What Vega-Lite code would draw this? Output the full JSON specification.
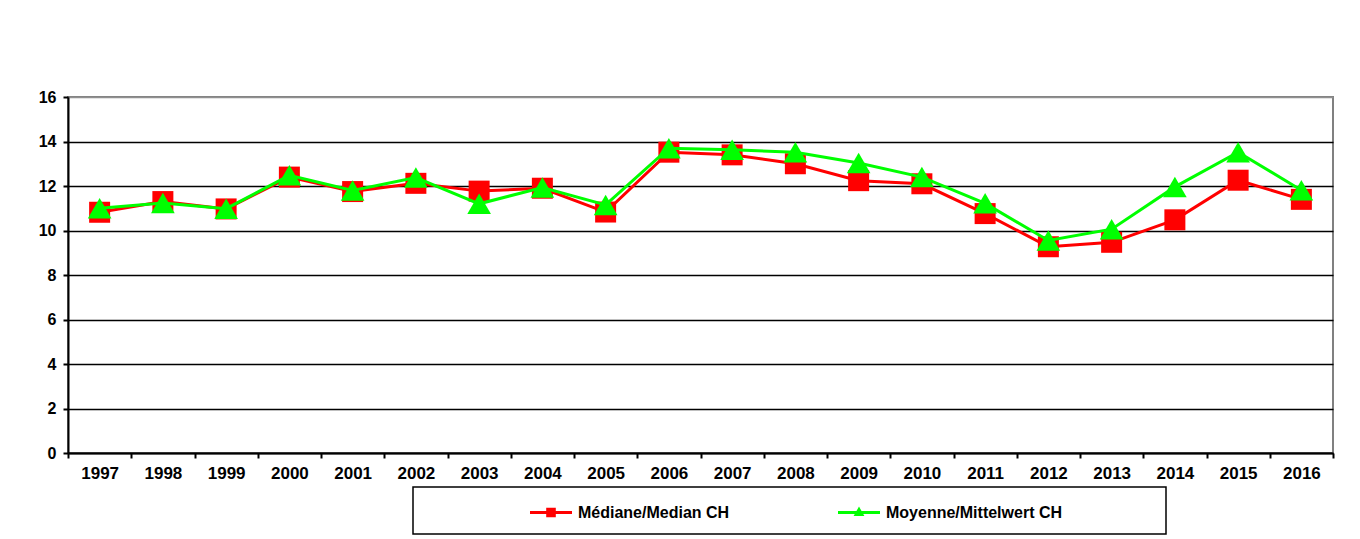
{
  "$schema": "https://vega.github.io/schema/vega-lite/v6.json",
  "width": 1265,
  "height": 356,
  "autosize": {"type": "none"},
  "padding": {"left": 68, "top": 97, "right": 27, "bottom": 86},
  "background": "white",
  "config": {
    "font": "Liberation Sans",
    "view": {"stroke": "#808080", "strokeWidth": 2}
  },
  "data": {
    "values": [
      {"year": "1997", "series": "Médiane/Median CH", "value": 10.82},
      {"year": "1998", "series": "Médiane/Median CH", "value": 11.3},
      {"year": "1999", "series": "Médiane/Median CH", "value": 10.97},
      {"year": "2000", "series": "Médiane/Median CH", "value": 12.4},
      {"year": "2001", "series": "Médiane/Median CH", "value": 11.75},
      {"year": "2002", "series": "Médiane/Median CH", "value": 12.12},
      {"year": "2003", "series": "Médiane/Median CH", "value": 11.77},
      {"year": "2004", "series": "Médiane/Median CH", "value": 11.9},
      {"year": "2005", "series": "Médiane/Median CH", "value": 10.83},
      {"year": "2006", "series": "Médiane/Median CH", "value": 13.52},
      {"year": "2007", "series": "Médiane/Median CH", "value": 13.4},
      {"year": "2008", "series": "Médiane/Median CH", "value": 13.0},
      {"year": "2009", "series": "Médiane/Median CH", "value": 12.24},
      {"year": "2010", "series": "Médiane/Median CH", "value": 12.1},
      {"year": "2011", "series": "Médiane/Median CH", "value": 10.76},
      {"year": "2012", "series": "Médiane/Median CH", "value": 9.27},
      {"year": "2013", "series": "Médiane/Median CH", "value": 9.47},
      {"year": "2014", "series": "Médiane/Median CH", "value": 10.48},
      {"year": "2015", "series": "Médiane/Median CH", "value": 12.26},
      {"year": "2016", "series": "Médiane/Median CH", "value": 11.4},
      {"year": "1997", "series": "Moyenne/Mittelwert CH", "value": 11.0},
      {"year": "1998", "series": "Moyenne/Mittelwert CH", "value": 11.24},
      {"year": "1999", "series": "Moyenne/Mittelwert CH", "value": 10.98},
      {"year": "2000", "series": "Moyenne/Mittelwert CH", "value": 12.48},
      {"year": "2001", "series": "Moyenne/Mittelwert CH", "value": 11.8},
      {"year": "2002", "series": "Moyenne/Mittelwert CH", "value": 12.38},
      {"year": "2003", "series": "Moyenne/Mittelwert CH", "value": 11.2},
      {"year": "2004", "series": "Moyenne/Mittelwert CH", "value": 11.93},
      {"year": "2005", "series": "Moyenne/Mittelwert CH", "value": 11.15},
      {"year": "2006", "series": "Moyenne/Mittelwert CH", "value": 13.7},
      {"year": "2007", "series": "Moyenne/Mittelwert CH", "value": 13.63},
      {"year": "2008", "series": "Moyenne/Mittelwert CH", "value": 13.52},
      {"year": "2009", "series": "Moyenne/Mittelwert CH", "value": 13.03},
      {"year": "2010", "series": "Moyenne/Mittelwert CH", "value": 12.4},
      {"year": "2011", "series": "Moyenne/Mittelwert CH", "value": 11.22},
      {"year": "2012", "series": "Moyenne/Mittelwert CH", "value": 9.55},
      {"year": "2013", "series": "Moyenne/Mittelwert CH", "value": 10.06},
      {"year": "2014", "series": "Moyenne/Mittelwert CH", "value": 11.96},
      {"year": "2015", "series": "Moyenne/Mittelwert CH", "value": 13.52},
      {"year": "2016", "series": "Moyenne/Mittelwert CH", "value": 11.81}
    ]
  },
  "encoding": {
    "x": {
      "field": "year",
      "type": "ordinal",
      "scale": {"paddingInner": 0, "paddingOuter": 0},
      "axis": {
        "title": null,
        "labelAngle": 0,
        "labelFont": "Liberation Sans",
        "labelFontSize": 17,
        "labelFontWeight": "bold",
        "labelColor": "black",
        "labelPadding": 7,
        "tickBand": "extent",
        "tickColor": "black",
        "tickSize": 5,
        "tickWidth": 2,
        "domainColor": "black",
        "domainWidth": 2,
        "grid": false,
        "zindex": 1
      }
    },
    "y": {
      "field": "value",
      "type": "quantitative",
      "scale": {"domain": [0, 16], "nice": false},
      "axis": {
        "title": null,
        "values": [0, 2, 4, 6, 8, 10, 12, 14, 16],
        "labelFont": "Liberation Sans",
        "labelFontSize": 16,
        "labelFontWeight": "bold",
        "labelColor": "black",
        "labelPadding": 7,
        "tickColor": "black",
        "tickSize": 5,
        "tickWidth": 2,
        "domainColor": "black",
        "domainWidth": 2,
        "grid": true,
        "gridColor": {"condition": {"test": "datum.value == 16", "value": "#909090"}, "value": "black"},
        "gridWidth": 1.3,
        "zindex": 0
      }
    },
    "color": {
      "field": "series",
      "type": "nominal",
      "scale": {"domain": ["Médiane/Median CH", "Moyenne/Mittelwert CH"], "range": ["#FF0000", "#00FF00"]},
      "legend": {
        "title": null,
        "orient": "none",
        "legendX": 345,
        "legendY": 390,
        "direction": "horizontal",
        "strokeColor": "black",
        "fillColor": "white",
        "padding": 13.5,
        "symbolOffset": 112.5,
        "symbolSize": 576,
        "symbolStrokeWidth": 0,
        "symbolOpacity": 1,
        "labelFont": "Liberation Sans",
        "labelFontSize": 16,
        "labelFontWeight": "bold",
        "labelColor": "black",
        "labelOffset": 15,
        "labelLimit": 400,
        "columnPadding": 5,
        "encode": {
          "legend": {"update": {"strokeWidth": {"value": 1.5}}},
          "symbols": {
            "update": {
              "shape": {"signal": "datum.value == 'Médiane/Median CH' ? 'M-1.75,-0.125H1.75V0.125H-1.75Z M-0.4,-0.4H0.4V0.4H-0.4Z' : 'M-1.75,-0.125H1.75V0.125H-1.75Z M0,-0.5L0.45,0.3H-0.45Z M24.4,0'"},
              "fillOpacity": {"value": 1},
              "strokeWidth": {"value": 0}
            }
          }
        }
      }
    }
  },
  "layer": [
    {
      "transform": [{"filter": "datum.series == 'Médiane/Median CH'"}],
      "mark": {"type": "line", "strokeWidth": 3},
      "encoding": {}
    },
    {
      "transform": [{"filter": "datum.series == 'Médiane/Median CH'"}],
      "mark": {"type": "point", "shape": "square", "filled": true, "size": 441, "opacity": 1}
    },
    {
      "transform": [{"filter": "datum.series == 'Moyenne/Mittelwert CH'"}],
      "mark": {"type": "line", "strokeWidth": 3},
      "encoding": {}
    },
    {
      "transform": [{"filter": "datum.series == 'Moyenne/Mittelwert CH'"}],
      "mark": {"type": "point", "shape": "triangle-up", "filled": true, "size": 560, "opacity": 1}
    }
  ]
}
